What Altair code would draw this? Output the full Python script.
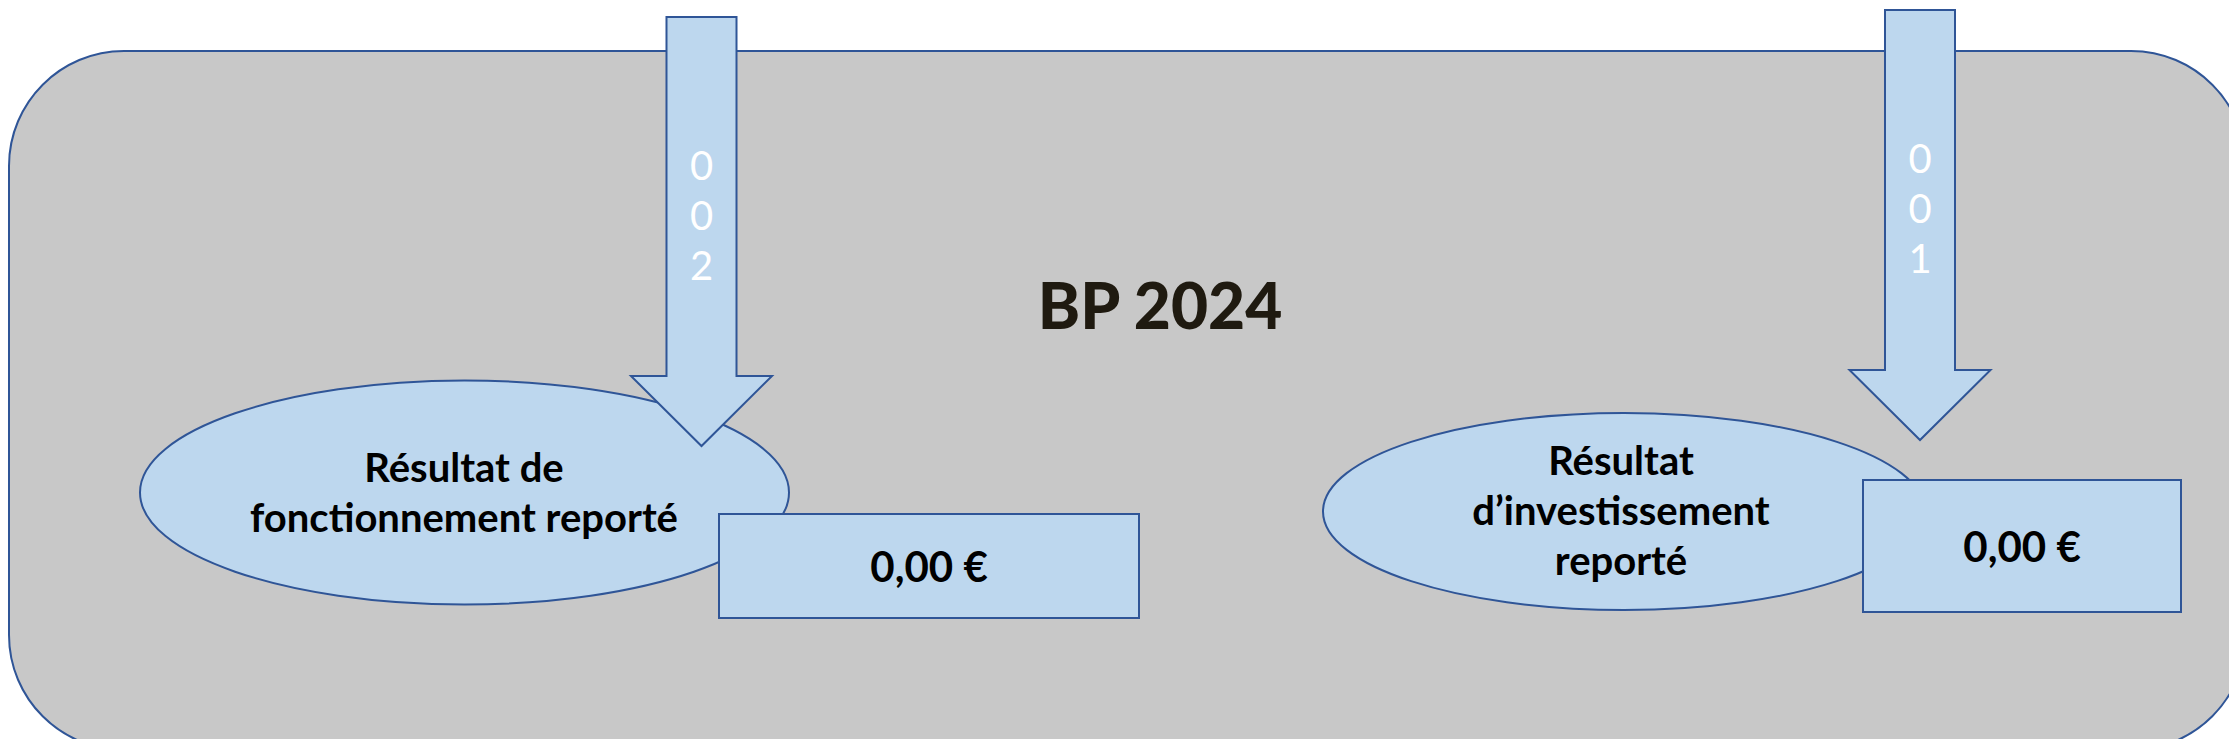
import altair as alt
import pandas as pd

# ---- page geometry (data coordinates == page pixels) ----
X_DOMAIN = [8, 2229]
Y_DOMAIN = [8, 739]

# ---- background panel ----
panel_x, panel_x2 = [9], [2246]
panel_y, panel_y2 = [51], [750]

# ---- title ----
title_text = ["BP 2024"]
title_x, title_y = [1160], [329]

# ---- ellipses with labels ----
ell_labels = ["Résultat de\nfonctionnement reporté", "Résultat\nd’investissement\nreporté"]
ell_cx = [464.5, 1624]
ell_cy = [492.5, 511.5]
ell_rx = [324.5, 301]
ell_ry = [112, 98.5]
label_x = [464, 1621]
label_y = [482, 475]

# ---- arrows ----
arrow_codes = ["0\n0\n2", "0\n0\n1"]
arrow_x = [701.5, 1920]
arrow_top = [17, 10]
arrow_neck = [376, 370]
arrow_tip = [446, 440]
arrow_shaft_half = [35, 35]
arrow_head_half = [70.5, 70.5]
code_y = [180, 173]

# ---- value boxes ----
box_values = ["0,00 €", "0,00 €"]
box_x = [719, 1863]
box_x2 = [1139, 2181]
box_y = [514, 480]
box_y2 = [618, 612]
value_y = [582, 562]

FILL = "#bdd7ee"
EDGE = "#2f5597"
GREY = "#c8c8c8"

K = 0.5523


def ellipse_path(r):
    return (f"M -1 0 C -1 {-K*r:.4f} {-K:.4f} {-r:.4f} 0 {-r:.4f} "
            f"C {K:.4f} {-r:.4f} 1 {-K*r:.4f} 1 0 "
            f"C 1 {K*r:.4f} {K:.4f} {r:.4f} 0 {r:.4f} "
            f"C {-K:.4f} {r:.4f} -1 {K*r:.4f} -1 0 Z")


def arrow_path(top, neck, tip, sh, hh):
    h = (tip - top) / 2.0
    a = sh / h
    b = hh / h
    n = (neck - (top + tip) / 2.0) / h
    return (f"M {-a:.4f} -1 L {a:.4f} -1 L {a:.4f} {n:.4f} L {b:.4f} {n:.4f} "
            f"L 0 1 L {-b:.4f} {n:.4f} L {-a:.4f} {n:.4f} Z")


xs = alt.Scale(domain=X_DOMAIN, nice=False, zero=False)
ys = alt.Scale(domain=Y_DOMAIN, nice=False, zero=False, reverse=True)

panel_df = pd.DataFrame({"x": panel_x, "x2": panel_x2, "y": panel_y, "y2": panel_y2})
panel = alt.Chart(panel_df).mark_rect(
    fill=GREY, stroke=EDGE, strokeWidth=2, cornerRadius=115, clip=True
).encode(
    x=alt.X("x:Q", scale=xs, axis=None), x2="x2:Q",
    y=alt.Y("y:Q", scale=ys, axis=None), y2="y2:Q",
)

ell_df = pd.DataFrame({
    "x": ell_cx, "y": ell_cy,
    "shape": [ellipse_path(ry / rx) for rx, ry in zip(ell_rx, ell_ry)],
    "size": [(2 * rx) ** 2 for rx in ell_rx],
})
ellipses = alt.Chart(ell_df).mark_point(
    filled=True, fill=FILL, stroke=EDGE, strokeWidth=2, opacity=1, fillOpacity=1, strokeOpacity=1
).encode(
    x=alt.X("x:Q", scale=xs, axis=None),
    y=alt.Y("y:Q", scale=ys, axis=None),
    shape=alt.Shape("shape:N", scale=None),
    size=alt.Size("size:Q", scale=None),
)

arr_df = pd.DataFrame({
    "x": arrow_x,
    "y": [(t + p) / 2.0 for t, p in zip(arrow_top, arrow_tip)],
    "shape": [arrow_path(t, n, p, s, h) for t, n, p, s, h in
              zip(arrow_top, arrow_neck, arrow_tip, arrow_shaft_half, arrow_head_half)],
    "size": [(p - t) ** 2 for t, p in zip(arrow_top, arrow_tip)],
})
arrows = alt.Chart(arr_df).mark_point(
    filled=True, fill=FILL, stroke=EDGE, strokeWidth=2, opacity=1, fillOpacity=1, strokeOpacity=1
).encode(
    x=alt.X("x:Q", scale=xs, axis=None),
    y=alt.Y("y:Q", scale=ys, axis=None),
    shape=alt.Shape("shape:N", scale=None),
    size=alt.Size("size:Q", scale=None),
)

box_df = pd.DataFrame({"x": box_x, "x2": box_x2, "y": box_y, "y2": box_y2})
boxes = alt.Chart(box_df).mark_rect(fill=FILL, stroke=EDGE, strokeWidth=2).encode(
    x=alt.X("x:Q", scale=xs, axis=None), x2="x2:Q",
    y=alt.Y("y:Q", scale=ys, axis=None), y2="y2:Q",
)

code_df = pd.DataFrame({"x": arrow_x, "y": code_y, "t": arrow_codes})
codes = alt.Chart(code_df).mark_text(
    font="Lato", fontSize=40, fontWeight="normal", color="white",
    align="center", baseline="alphabetic", lineBreak="\n", lineHeight=50
).encode(
    x=alt.X("x:Q", scale=xs, axis=None), y=alt.Y("y:Q", scale=ys, axis=None), text="t:N"
)

lab_df = pd.DataFrame({"x": label_x, "y": label_y, "t": ell_labels})
labels = alt.Chart(lab_df).mark_text(
    font="Lato", fontSize=40, fontWeight="bold", color="black",
    align="center", baseline="alphabetic", lineBreak="\n", lineHeight=50
).encode(
    x=alt.X("x:Q", scale=xs, axis=None), y=alt.Y("y:Q", scale=ys, axis=None), text="t:N"
)

val_df = pd.DataFrame({"x": [(a + b) / 2.0 for a, b in zip(box_x, box_x2)], "y": value_y, "t": box_values})
values = alt.Chart(val_df).mark_text(
    font="Lato", fontSize=42, fontWeight="bold", color="black",
    align="center", baseline="alphabetic"
).encode(
    x=alt.X("x:Q", scale=xs, axis=None), y=alt.Y("y:Q", scale=ys, axis=None), text="t:N"
)

title_df = pd.DataFrame({"x": title_x, "y": title_y, "t": title_text})
title = alt.Chart(title_df).mark_text(
    font="Lato", fontSize=64, fontWeight=900, color="#1f1a10",
    align="center", baseline="alphabetic"
).encode(
    x=alt.X("x:Q", scale=xs, axis=None), y=alt.Y("y:Q", scale=ys, axis=None), text="t:N"
)

chart = alt.layer(panel, ellipses, arrows, boxes, codes, labels, values, title).properties(
    width=X_DOMAIN[1] - X_DOMAIN[0],
    height=Y_DOMAIN[1] - Y_DOMAIN[0],
    padding=0,
    autosize=alt.AutoSizeParams(type="none"),
    background="white",
).configure_view(stroke=None)

chart.save("out.html", embed_options={"renderer": "svg", "actions": False})
